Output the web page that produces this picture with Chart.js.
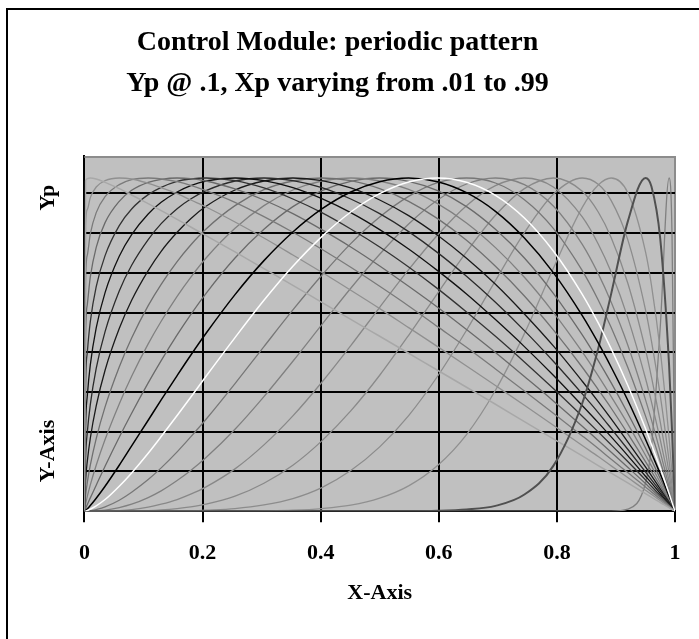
<!DOCTYPE html>
<html>
<head>
<meta charset="utf-8">
<title>Control Module: periodic pattern</title>
<script src="https://cdn.jsdelivr.net/npm/chart.js@4.4.1/dist/chart.umd.min.js"></script>
<style>
  html, body { margin: 0; padding: 0; background: #fff; }
  #wrap { width: 699px; height: 639px; position: relative; }
</style>
</head>
<body>
<div id="wrap"><canvas id="chart"></canvas></div>
<script>
// Shared x positions for every curve
const xValues = [0, 0.002, 0.005, 0.01, 0.02, 0.035, 0.059, 0.08, 0.108, 0.13, 0.157, 0.18, 0.206, 0.255, 0.304, 0.353, 0.402, 0.451, 0.5, 0.549, 0.598, 0.647, 0.696, 0.745, 0.794, 0.843, 0.87, 0.892, 0.92, 0.95, 0.96, 0.975, 0.99, 0.995, 1];

// Peak position of each curve
const xpValues = [0.01, 0.059, 0.108, 0.157, 0.206, 0.255, 0.304, 0.353, 0.402, 0.451, 0.5, 0.549, 0.598, 0.647, 0.696, 0.745, 0.794, 0.843, 0.892, 0.95, 0.99];

// Curve heights, as a fraction of Yp
const xp010 = [0, .992, .998, 1, .997, .987, .968, .949, .923, .902, .876, .853, .827, .778, .728, .678, .627, .576, .525, .474, .423, .372, .321, .269, .217, .166, .137, .114, .085, .053, .042, .026, .011, .005, 0];
const xp059 = [0, .858, .906, .941, .973, .992, 1, .997, .984, .971, .953, .934, .913, .868, .820, .769, .717, .663, .608, .551, .494, .436, .377, .318, .258, .197, .164, .136, .101, .063, .051, .032, .013, .006, 0];
const xp108 = [0, .690, .769, .832, .896, .944, .980, .995, 1, .997, .989, .978, .962, .927, .884, .837, .786, .732, .675, .616, .554, .492, .427, .361, .294, .226, .188, .156, .116, .073, .058, .037, .015, .007, 0];
const xp157 = [0, .525, .621, .703, .792, .866, .930, .963, .987, .996, 1, .998, .991, .967, .934, .893, .845, .793, .736, .675, .612, .545, .476, .404, .331, .255, .212, .177, .132, .083, .066, .042, .017, .008, 0];
const xp206 = [0, .378, .478, .569, .674, .767, .857, .907, .950, .972, .990, .997, 1, .992, .970, .937, .896, .847, .793, .733, .668, .598, .525, .448, .368, .285, .238, .199, .149, .094, .075, .047, .019, .009, 0];
const xp255 = [0, .255, .348, .439, .550, .656, .765, .830, .892, .927, .958, .977, .991, 1, .992, .971, .938, .896, .845, .787, .722, .652, .575, .494, .408, .317, .266, .223, .167, .105, .085, .053, .021, .011, 0];
const xp304 = [0, .160, .238, .320, .429, .539, .661, .738, .815, .863, .908, .937, .962, .991, 1, .992, .971, .937, .893, .839, .776, .705, .627, .542, .450, .352, .296, .248, .186, .118, .095, .060, .024, .012, 0];
const xp353 = [0, .092, .151, .219, .316, .423, .548, .633, .722, .780, .837, .878, .915, .964, .991, 1, .992, .970, .934, .887, .828, .759, .681, .592, .496, .390, .329, .277, .208, .133, .107, .067, .027, .014, 0];
const xp402 = [0, .047, .087, .138, .218, .313, .433, .520, .617, .681, .749, .799, .847, .917, .965, .991, 1, .992, .968, .930, .878, .813, .735, .646, .544, .432, .365, .309, .233, .149, .120, .076, .031, .015, 0];
const xp451 = [0, .021, .045, .079, .138, .215, .322, .405, .502, .570, .645, .702, .760, .849, .917, .964, .991, 1, .991, .966, .923, .865, .791, .702, .597, .478, .406, .344, .262, .168, .136, .086, .035, .017, 0];
const xp500 = [0, .008, .020, .040, .078, .135, .222, .294, .385, .452, .529, .590, .654, .760, .846, .914, .962, .990, 1, .990, .962, .914, .846, .760, .654, .529, .452, .385, .294, .190, .154, .098, .040, .020, 0];
const xp549 = [0, .002, .007, .017, .039, .075, .138, .196, .273, .334, .407, .468, .534, .650, .752, .838, .907, .958, .989, 1, .989, .956, .900, .820, .716, .587, .505, .432, .333, .216, .175, .112, .045, .023, 0];
const xp598 = [0, 0, .002, .006, .016, .035, .075, .115, .174, .224, .287, .342, .405, .521, .633, .735, .824, .898, .953, .988, 1, .987, .948, .880, .781, .651, .565, .487, .378, .248, .201, .129, .053, .026, 0];
const xp647 = [0, 0, 0, .001, .005, .013, .033, .057, .095, .130, .178, .223, .276, .383, .494, .604, .708, .803, .883, .945, .986, 1, .985, .935, .849, .722, .634, .551, .432, .286, .234, .150, .062, .031, 0];
const xp696 = [0, 0, 0, 0, .001, .003, .011, .021, .041, .061, .092, .122, .161, .246, .344, .450, .560, .669, .771, .862, .934, .982, 1, .980, .916, .801, .713, .627, .499, .335, .275, .178, .074, .037, 0];
const xp745 = [0, 0, 0, 0, 0, 0, .002, .005, .012, .021, .035, .051, .073, .127, .199, .286, .387, .497, .612, .725, .829, .917, .977, 1, .973, .883, .802, .717, .581, .399, .329, .215, .090, .045, 0];
const xp794 = [0, 0, 0, 0, 0, 0, 0, .001, .002, .004, .008, .013, .021, .045, .084, .138, .211, .301, .408, .528, .654, .778, .888, .968, 1, .960, .898, .821, .685, .485, .404, .268, .114, .058, 0];
const xp843 = [0, 0, 0, 0, 0, 0, 0, 0, 0, 0, .001, .001, .003, .008, .019, .038, .071, .122, .193, .287, .405, .543, .692, .836, .951, 1, .981, .932, .815, .605, .512, .348, .151, .077, 0];
const xp892 = [0, 0, 0, 0, 0, 0, 0, 0, 0, 0, 0, 0, 0, 0, .001, .003, .008, .018, .039, .076, .137, .230, .363, .533, .729, .912, .979, 1, .956, .779, .680, .483, .219, .112, 0];
const xp950 = [0, 0, 0, 0, 0, 0, 0, 0, 0, 0, 0, 0, 0, 0, 0, 0, 0, 0, 0, 0, .001, .005, .016, .050, .136, .324, .488, .653, .869, 1, .975, .818, .438, .241, 0];
const xp990 = [0, 0, 0, 0, 0, 0, 0, 0, 0, 0, 0, 0, 0, 0, 0, 0, 0, 0, 0, 0, 0, 0, 0, 0, 0, 0, 0, 0, .006, .084, .191, .552, 1, .823, 0];

const curves = [xp010, xp059, xp108, xp157, xp206, xp255, xp304, xp353, xp402, xp451, xp500, xp549, xp598, xp647, xp696, xp745, xp794, xp843, xp892, xp950, xp990];

const xTickLabels = ['0', '0.2', '0.4', '0.6', '0.8', '1'];
const titleLines = ['Control Module: periodic pattern', 'Yp @ .1, Xp varying from .01 to .99'];
const xAxisTitle = 'X-Axis';
const yAxisTitle = 'Y-Axis' + ' '.repeat(38) + 'Yp';

// Line looks
const lineColors = ['#a8a8a8', '#909090', '#7a7a7a', '#6a6a6a', '#333333', '#111111', '#2a2a2a', '#1a1a1a', '#707070', '#808080', '#6a6a6a', '#000000', '#ffffff', '#777777', '#808080', '#888888', '#8a8a8a', '#8c8c8c', '#909090', '#505050', '#808080'];
const lineWidths = [1.5, 1.3, 1.3, 1.3, 1.3, 1.3, 1.3, 1.3, 1.3, 1.3, 1.3, 1.5, 1.5, 1.3, 1.3, 1.3, 1.3, 1.3, 1.3, 2, 1.3];
const drawOrder = [5, 5, 5, 5, 5, 5, 5, 5, 5, 5, 5, 1, 0, 5, 5, 5, 5, 5, 5, 2, 5];

const serif = '"Liberation Serif", "Times New Roman", serif';
Chart.defaults.color = '#000';
Chart.defaults.font.family = serif;

// White page, outer frame and grey plot area
const chartFrame = {
    id: 'chartFrame',
    beforeDraw(chart) {
        const { ctx, chartArea: a } = chart;
        ctx.save();
        ctx.fillStyle = '#fff';
        ctx.fillRect(0, 0, chart.width, chart.height);
        ctx.strokeStyle = '#000';
        ctx.lineWidth = 2;
        ctx.strokeRect(7, 9, chart.width + 20, chart.height + 20);
        ctx.fillStyle = '#c0c0c0';
        ctx.fillRect(a.left, a.top, a.right - a.left, a.bottom - a.top);
        ctx.restore();
    },
    beforeDatasetsDraw(chart) {
        const { ctx, chartArea: a } = chart;
        ctx.save();
        ctx.strokeStyle = '#8c8c8c';
        ctx.lineWidth = 2;
        ctx.beginPath();
        ctx.moveTo(a.left, a.top + 1);
        ctx.lineTo(a.right, a.top + 1);
        ctx.stroke();
        ctx.restore();
    }
};

const datasets = curves.map((vals, i) => ({
    label: 'Xp = ' + xpValues[i],
    data: xValues.map((x, j) => ({ x: x, y: vals[j] })),
    borderColor: lineColors[i],
    borderWidth: lineWidths[i],
    pointRadius: 0,
    fill: false,
    cubicInterpolationMode: 'monotone',
    order: drawOrder[i]
}));

const ctx = document.getElementById('chart').getContext('2d');
const chart = new Chart(ctx, {
    type: 'line',
    data: { datasets: datasets },
    options: {
        responsive: true,
        maintainAspectRatio: false,
        animation: false,
        layout: { padding: { left: 0, right: 24, top: 0, bottom: 0 } },
        plugins: {
            legend: { display: false },
            tooltip: { enabled: false },
            title: {
                display: true,
                text: titleLines,
                color: '#000',
                font: { family: serif, size: 28, weight: 'bold', lineHeight: '41px' },
                padding: { top: 22, bottom: 52 }
            }
        },
        scales: {
            x: {
                type: 'linear',
                min: 0,
                max: 1,
                ticks: {
                    stepSize: 0.2,
                    color: '#000',
                    padding: 18,
                    maxRotation: 0,
                    font: { family: serif, size: 22, weight: 'bold' },
                    callback: (v, i) => xTickLabels[i]
                },
                grid: {
                    color: (c) => (c.tick && c.tick.value === 1 ? '#8c8c8c' : '#000'),
                    lineWidth: 2,
                    tickColor: '#000',
                    tickWidth: 2,
                    tickLength: 11
                },
                border: { color: '#000', width: 2 },
                title: {
                    display: true,
                    text: xAxisTitle,
                    color: '#000',
                    font: { family: serif, size: 22, weight: 'bold' },
                    padding: { top: -4, bottom: 32 }
                }
            },
            y: {
                min: 0,
                max: 1.066,
                ticks: { stepSize: 0.1192, display: false, includeBounds: false },
                grid: { color: '#000', lineWidth: 2, drawTicks: false },
                border: { color: '#000', width: 2 },
                title: {
                    display: true,
                    text: yAxisTitle,
                    color: '#000',
                    font: { family: serif, size: 22, weight: 'bold' },
                    padding: { top: 35, bottom: 23 }
                }
            }
        }
    },
    plugins: [chartFrame]
});
</script>
</body>
</html>
